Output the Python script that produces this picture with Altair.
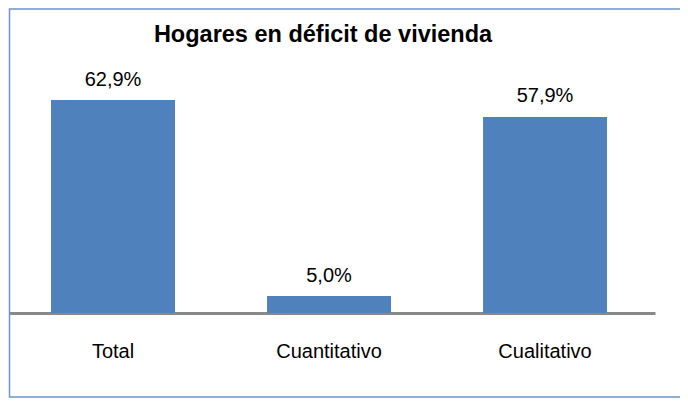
import altair as alt
import pandas as pd

title_text = ["Hogares en déficit de vivienda"]
categories = ["Total", "Cuantitativo", "Cualitativo"]
values = [62.9, 5.0, 57.9]
labels = ["62,9%", "5,0%", "57,9%"]

df = pd.DataFrame({"cat": categories, "val": values, "lab": labels})

FONT = "Liberation Sans"
BAR = "#4F81BD"

x_enc = alt.X(
    "cat:N",
    sort=categories,
    title=None,
    scale=alt.Scale(paddingInner=0.426, paddingOuter=0.2083, align=0.467),
    axis=alt.Axis(
        domainColor="#898989",
        domainWidth=3,
        ticks=False,
        tickSize=0,
        labelAngle=0,
        labelFont=FONT,
        labelFontSize=20,
        labelColor="#000000",
        labelBaseline="alphabetic",
        labelPadding=44,
        grid=False,
    ),
)
y_enc = alt.Y("val:Q", scale=alt.Scale(domain=[0, 70]), axis=None)

base = alt.Chart(df)

bars = base.mark_bar(color=BAR).encode(x=x_enc, y=y_enc)

texts = base.mark_text(
    font=FONT, fontSize=20, color="#000000", baseline="alphabetic", dy=-14.5
).encode(x=alt.X("cat:N", sort=categories), y=y_enc, text="lab:N")

border = alt.Chart(pd.DataFrame({"a": [0]})).mark_rect(
    fill="transparent", stroke="#6E94CC", strokeWidth=1.5
).encode(
    x=alt.value(0.5), x2=alt.value(720), y=alt.value(-67), y2=alt.value(321)
)

title = alt.Chart(pd.DataFrame({"t": title_text})).mark_text(
    font=FONT, fontSize=23.5, fontWeight="bold", color="#000000",
    align="center", baseline="alphabetic"
).encode(x=alt.value(314), y=alt.value(-34), text="t:N")

chart = alt.layer(bars, texts, border, title).properties(
    width=646,
    height=237,
    autosize=alt.AutoSizeParams(type="none"),
    padding={"left": 1, "top": 68, "right": 25, "bottom": 85},
    background="white",
).configure_view(stroke="transparent", strokeWidth=0)

chart.save("out.html", embed_options={"renderer": "svg", "actions": False})
